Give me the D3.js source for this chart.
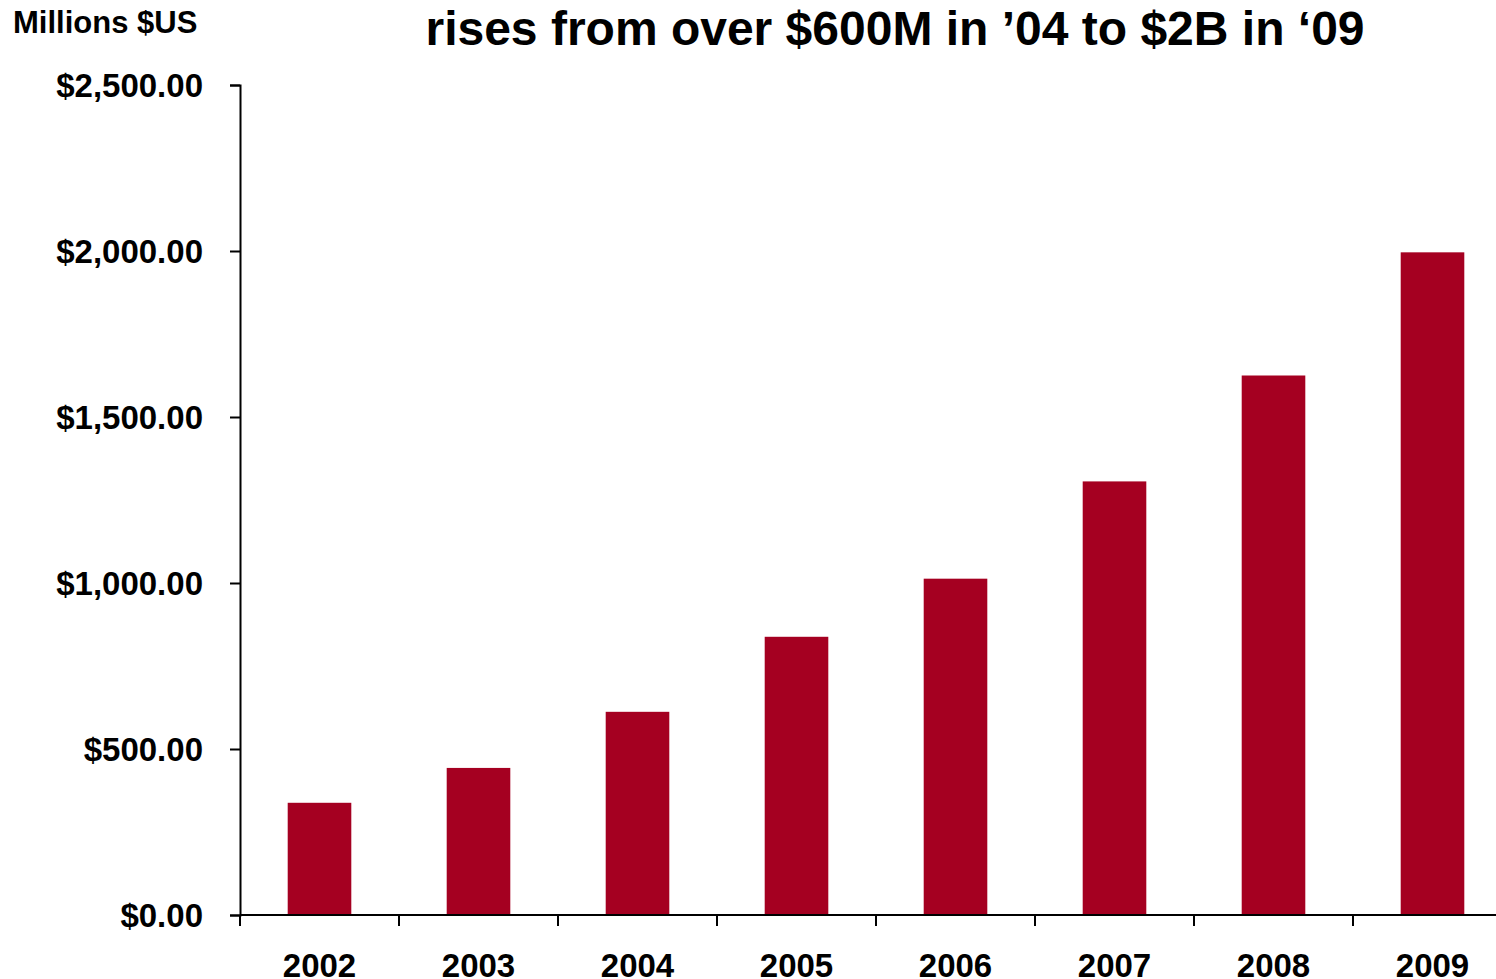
<!DOCTYPE html>
<html>
<head>
<meta charset="utf-8">
<script src="https://cdn.jsdelivr.net/npm/d3@7"></script>
<style>
  body { margin: 0; background: #fff; }
  svg { display: block; font-family: "Liberation Sans", Arial, sans-serif; font-weight: bold; }
</style>
</head>
<body>
<script>
// data (millions of US dollars)
const years = ["2002", "2003", "2004", "2005", "2006", "2007", "2008", "2009"];
const revenue = [338, 443, 612, 838, 1013, 1306, 1625, 1996];
const yTicks = [0, 500, 1000, 1500, 2000, 2500];

const width = 1496, height = 979;

const svg = d3.select("body").append("svg")
    .attr("width", width)
    .attr("height", height);

// scales - the band range runs a bit past the right edge, like the original slide
const x = d3.scaleBand()
    .domain(years)
    .range([240, 1512])
    .paddingInner(0.6)
    .paddingOuter(0.3);

const y = d3.scaleLinear()
    .domain([0, 2500])
    .range([915, 85]);

// bars
svg.selectAll("rect.bar")
    .data(years)
    .join("rect")
    .attr("class", "bar")
    .attr("x", d => x(d))
    .attr("width", x.bandwidth())
    .attr("y", (d, i) => y(revenue[i]))
    .attr("height", (d, i) => y(0) - y(revenue[i]))
    .style("fill", "#a50021");

// y axis
const yAxis = svg.append("g")
    .attr("transform", "translate(240,0)")
    .call(d3.axisLeft(y)
        .tickValues(yTicks)
        .tickSize(10)
        .tickPadding(27)
        .tickFormat(d3.format("$,.2f")));

yAxis.select(".domain").style("stroke", "#000").style("stroke-width", 2);
yAxis.selectAll(".tick line").style("stroke", "#000").style("stroke-width", 2);
yAxis.selectAll(".tick text")
    .attr("dy", "0.36em")
    .style("font-size", "33px")
    .style("font-family", "'Liberation Sans', Arial, sans-serif")
    .style("font-weight", "bold")
    .style("fill", "#000");

// x axis: baseline plus ticks at the category boundaries
svg.append("line")
    .attr("x1", 240).attr("x2", width)
    .attr("y1", y(0)).attr("y2", y(0))
    .style("stroke", "#000")
    .style("stroke-width", 2);

const step = x.step();
svg.selectAll("line.xtick")
    .data(years)
    .join("line")
    .attr("class", "xtick")
    .attr("x1", d => x(d) - step * x.paddingInner() / 2)
    .attr("x2", d => x(d) - step * x.paddingInner() / 2)
    .attr("y1", y(0))
    .attr("y2", y(0) + 11)
    .style("stroke", "#000")
    .style("stroke-width", 2);

svg.selectAll("text.year")
    .data(years)
    .join("text")
    .attr("class", "year")
    .attr("x", d => x(d) + x.bandwidth() / 2)
    .attr("y", 977)
    .attr("text-anchor", "middle")
    .style("font-size", "33px")
    .text(d => d);

// unit label and title
svg.append("text")
    .attr("x", 13)
    .attr("y", 33)
    .style("font-size", "31px")
    .text("Millions $US");

svg.append("text")
    .attr("x", 895)
    .attr("y", 45)
    .attr("text-anchor", "middle")
    .style("font-size", "48px")
    .text("rises from over $600M in \u201904 to $2B in \u201809");
</script>
</body>
</html>
